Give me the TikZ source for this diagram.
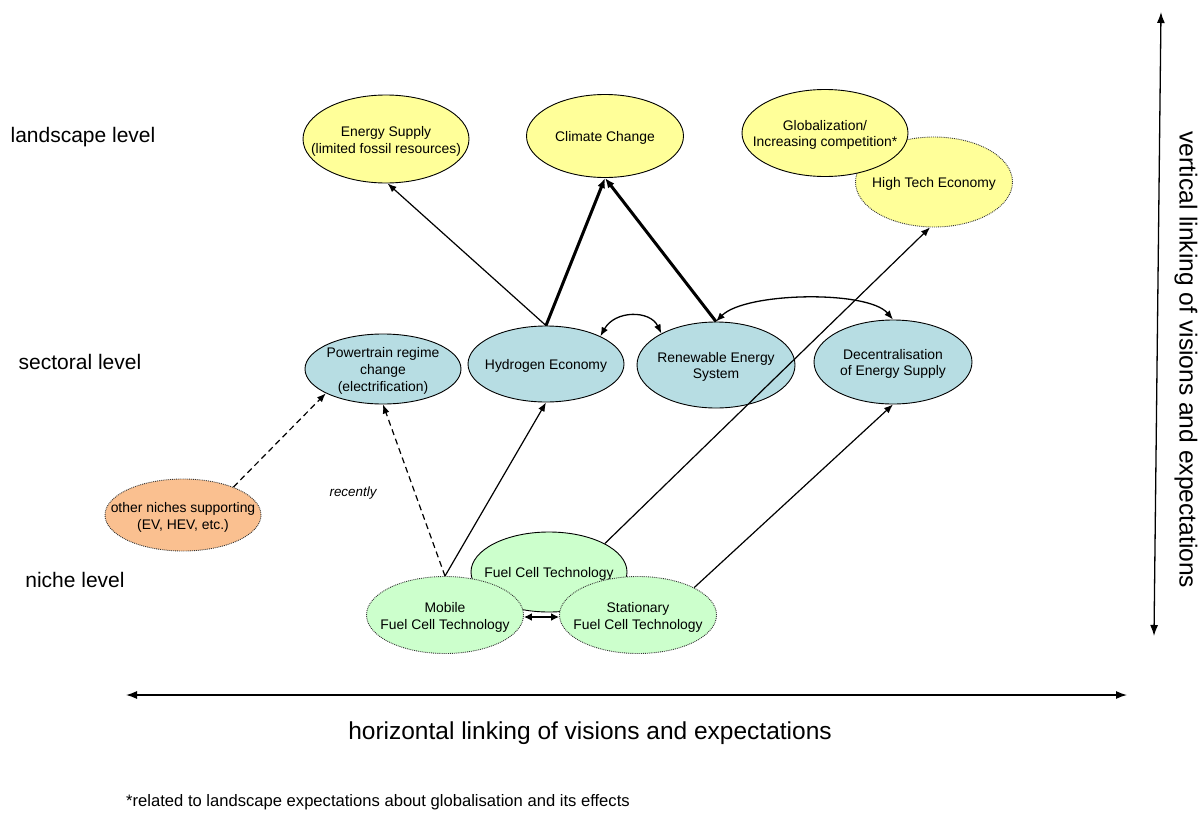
\documentclass[tikz,border=0pt]{standalone}
\usepackage{fontspec}
\setmainfont{Liberation Sans}
\usetikzlibrary{shapes.geometric,arrows.meta}
\definecolor{yel}{HTML}{FFFF99}
\definecolor{blu}{HTML}{B7DDE3}
\definecolor{grn}{HTML}{CCFFCC}
\definecolor{org}{HTML}{FAC090}
\newcommand{\elltext}{\fontsize{13.9}{16.8}\selectfont}
\tikzset{
  lbl/.style={align=center, font=\elltext, inner sep=0pt, draw=none, solid, yshift=-2pt},
  ell/.style={ellipse, inner sep=0pt, draw=black, line width=0.9pt},
  dotell/.style={ellipse, inner sep=0pt, draw=black!80, line width=0.9pt, densely dotted},
  lvl/.style={font=\fontsize{21}{24}\selectfont},
  thinarr/.style={line width=1.2pt, -{Latex[length=9pt,width=7pt]}},
  thickarr/.style={line width=3pt, -{Latex[length=10pt,width=8pt]}},
  dasharr/.style={line width=1.2pt, dashed, dash pattern=on 6pt off 4pt, -{Latex[length=9pt,width=7pt]}},
  dblarr/.style={line width=1.3pt, {Latex[length=9pt,width=7pt]}-{Latex[length=9pt,width=7pt]}},
  axisarr/.style={line width=1.3pt, {Latex[length=11pt,width=8pt]}-{Latex[length=11pt,width=8pt]}},
}
\begin{document}
\begin{tikzpicture}[x=1pt,y=-1pt]
\useasboundingbox (0,0) rectangle (1203,814);
% landscape level
\node[dotell, fill=yel, minimum width=157pt, minimum height=90pt, label={[lbl]center:High Tech Economy}] (ht) at (934,182) {};
\node[ell, fill=yel, minimum width=166pt, minimum height=88pt, label={[lbl]center:{Energy Supply\\(limited fossil resources)}}] (es) at (386,139) {};
\node[ell, fill=yel, minimum width=157pt, minimum height=83pt, label={[lbl]center:Climate Change}] (cc) at (605,136) {};
\node[ell, fill=yel, minimum width=166pt, minimum height=87pt, label={[lbl]center:{Globalization/\\Increasing competition*}}] (gl) at (825,133) {};
% sectoral level
\node[ell, fill=blu, minimum width=156pt, minimum height=70pt, label={[lbl]center:{Powertrain regime\\change\\(electrification)}}] (pt) at (383,369) {};
\node[ell, fill=blu, minimum width=156pt, minimum height=76pt, label={[lbl]center:Hydrogen Economy}] (hyd) at (546,364) {};
\node[ell, fill=blu, minimum width=158pt, minimum height=86pt, label={[lbl]center:{Renewable Energy\\System}}] (ren) at (716,365) {};
\node[ell, fill=blu, minimum width=158pt, minimum height=84pt, label={[lbl]center:{Decentralisation\\of Energy Supply}}] (dec) at (893,362) {};
% niche level
\node[dotell, fill=org, minimum width=156pt, minimum height=72pt, label={[lbl]center:{other niches supporting\\(EV, HEV, etc.)}}] (oth) at (183,515) {};
\node[ell, fill=grn, minimum width=156pt, minimum height=80pt, label={[lbl]center:Fuel Cell Technology}] (fc) at (549,572) {};
\node[dotell, fill=grn, minimum width=157pt, minimum height=77pt, label={[lbl]center:{Mobile\\Fuel Cell Technology}}] (mob) at (445,615) {};
\node[dotell, fill=grn, minimum width=157pt, minimum height=77pt, label={[lbl]center:{Stationary\\Fuel Cell Technology}}] (st) at (638,615) {};
% level labels
\node[lvl] (l1) at (83,137) {landscape level};
\node[lvl] (l2) at (80,362) {sectoral level};
\node[lvl] (l3) at (75,580) {niche level};
\node[font=\itshape\fontsize{13.4}{16}\selectfont] (rec) at (353,493) {recently};
% connectors
\draw[thinarr] (hyd.north) -- (es.272);
\draw[thickarr] (hyd.north) -- (cc.south);
\draw[thickarr] (ren.north) -- (cc.south);
\draw[dblarr] (hyd.27) .. controls (615,310) and (650,310) .. (ren.150);
\draw[dblarr] (ren.north) .. controls (745,292) and (868,290) .. (dec.north);
\draw[thinarr] (fc.27) -- (ht.265);
\draw[thinarr] (st.26) -- (dec.south);
\draw[thinarr] (mob.north) -- (hyd.south);
\draw[dasharr] (mob.north) -- (pt.south);
\draw[dasharr] (oth.29) -- (pt.203);
\draw[line width=2pt, {Latex[length=8pt,width=8pt]}-{Latex[length=8pt,width=8pt]}] ([yshift=-2pt]mob.east) -- ([yshift=-2pt]st.west);
% axes
\coordinate (hl) at (126,695);
\coordinate (hr) at (1127,695);
\coordinate (vt) at (1161,12);
\coordinate (vb) at (1154,636);
\draw[axisarr] (hl) -- (hr);
\draw[axisarr] (vt) -- (vb);
\node[font=\fontsize{24.5}{28}\selectfont] (htext) at (590,733) {horizontal linking of visions and expectations};
\node[font=\fontsize{24.6}{28}\selectfont, rotate=-90] (vtext) at (1186,360) {vertical linking of visions and expectations};
\node[font=\fontsize{16.6}{20}\selectfont, anchor=west, inner sep=0pt] (foot) at (126,802) {*related to landscape expectations about globalisation and its effects};
\end{tikzpicture}
\end{document}
